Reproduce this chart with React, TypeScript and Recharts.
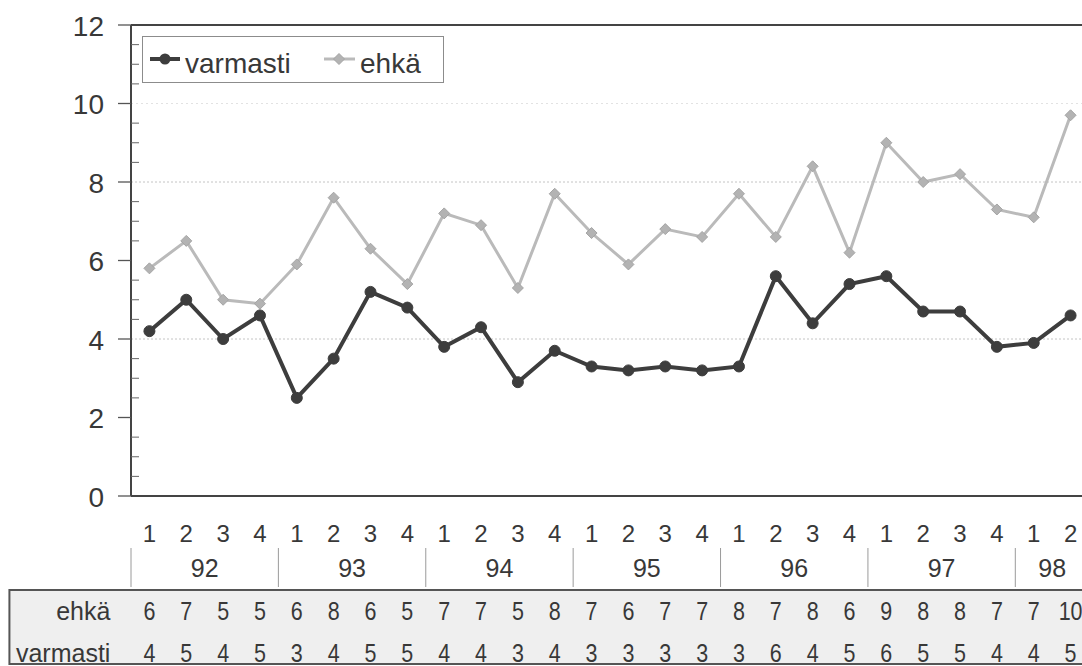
import React from 'react';
import { LineChart, Line, XAxis, YAxis, ReferenceLine, Legend } from 'recharts';

const YEARS = ['92', '93', '94', '95', '96', '97', '98'];
const QUARTERS_IN_YEAR = [4, 4, 4, 4, 4, 4, 2];
const VARMASTI = [4.2, 5.0, 4.0, 4.6, 2.5, 3.5, 5.2, 4.8, 3.8, 4.3, 2.9, 3.7, 3.3, 3.2, 3.3, 3.2, 3.3, 5.6, 4.4, 5.4, 5.6, 4.7, 4.7, 3.8, 3.9, 4.6];
const EHKA = [5.8, 6.5, 5.0, 4.9, 5.9, 7.6, 6.3, 5.4, 7.2, 6.9, 5.3, 7.7, 6.7, 5.9, 6.8, 6.6, 7.7, 6.6, 8.4, 6.2, 9.0, 8.0, 8.2, 7.3, 7.1, 9.7];
const TABLE_EHKA = [6, 7, 5, 5, 6, 8, 6, 5, 7, 7, 5, 8, 7, 6, 7, 7, 8, 7, 8, 6, 9, 8, 8, 7, 7, 10];
const TABLE_VARMASTI = [4, 5, 4, 5, 3, 4, 5, 5, 4, 4, 3, 4, 3, 3, 3, 3, 3, 6, 4, 5, 6, 5, 5, 4, 4, 5];
const ROW_LABELS = ['ehkä', 'varmasti'];
const Y_TICKS = [0, 0.5, 1, 1.5, 2, 2.5, 3, 3.5, 4, 4.5, 5, 5.5, 6, 6.5, 7, 7.5, 8, 8.5, 9, 9.5, 10, 10.5, 11, 11.5, 12];
const Y_MAJOR = [0, 2, 4, 6, 8, 10, 12];
const GRID_DARK = [4, 8];
const GRID_FAINT = [10];

const CHART_W = 1100;
const CHART_H = 666;
const MARGIN = { top: 25, right: 11, left: 0, bottom: 0 };
const Y_AXIS_W = 131;
const X_AXIS_H = 170;
const PLOT_W = CHART_W - MARGIN.left - MARGIN.right - Y_AXIS_W;
const FONT = '"Liberation Sans", Arial, Helvetica, sans-serif';
const TEXT = '#383838';
const DARK = '#3d3d3d';
const LIGHT = '#bababa';
const AXIS = '#444444';

type Row = {
  key: string;
  year: string;
  quarter: string;
  q: number;
  n: number;
  varmasti: number;
  ehka: number;
  tEhka: number;
  tVarmasti: number;
};

const data: Row[] = [];
{
  let i = 0;
  YEARS.forEach((year, yi) => {
    for (let q = 1; q <= QUARTERS_IN_YEAR[yi]; q++) {
      data.push({
        key: `${year}-${q}`,
        year,
        quarter: String(q),
        q,
        n: QUARTERS_IN_YEAR[yi],
        varmasti: VARMASTI[i],
        ehka: EHKA[i],
        tEhka: TABLE_EHKA[i],
        tVarmasti: TABLE_VARMASTI[i],
      });
      i++;
    }
  });
}
const byKey = new Map(data.map((d) => [d.key, d]));
const BAND = PLOT_W / data.length;

function Num({ x, y, size, children }: { x: number; y: number; size: number; children: any }) {
  return (
    <text
      transform={`translate(${x},${y}) scale(0.86,1)`}
      x={0}
      y={0}
      textAnchor="middle"
      fontSize={size}
      fontFamily={FONT}
      fill={TEXT}
    >
      {children}
    </text>
  );
}

function XTick(props: any) {
  const { x, y, payload } = props;
  const d = byKey.get(payload.value);
  if (!d) return null;
  const isFirst = d.key === data[0].key;
  return (
    <g>
      {isFirst && (
        <g>
          <rect x={x - 140} y={y + 94} width={1200} height={74} fill="#efefef" stroke="#555" strokeWidth={2} />
          <text x={x - 39} y={y + 124} textAnchor="end" fontSize={25} fontFamily={FONT} fill={TEXT}>{ROW_LABELS[0]}</text>
          <text x={x - 39} y={y + 166} textAnchor="end" fontSize={25} fontFamily={FONT} fill={TEXT}>{ROW_LABELS[1]}</text>
        </g>
      )}
      <text x={x} y={y + 46} textAnchor="middle" fontSize={24} fontFamily={FONT} fill={TEXT}>{d.quarter}</text>
      {d.q === 1 && (
        <line x1={x - BAND / 2} x2={x - BAND / 2} y1={y + 52} y2={y + 91} stroke="#9a9a9a" strokeWidth={1} />
      )}
      {d.q === 1 && (
        <text x={x + ((d.n - 1) * BAND) / 2} y={y + 81} textAnchor="middle" fontSize={25} fontFamily={FONT} fill={TEXT}>{d.year}</text>
      )}
      <Num x={x} y={y + 124} size={25}>{d.tEhka}</Num>
      <Num x={x} y={y + 166} size={25}>{d.tVarmasti}</Num>
    </g>
  );
}

function YTick(props: any) {
  const { x, y, payload } = props;
  const v = payload.value;
  const major = Y_MAJOR.includes(v);
  return (
    <g>
      {major ? (
        <line x1={x - 13} x2={x} y1={y} y2={y} stroke="#555" strokeWidth={1.3} />
      ) : (
        <line x1={x} x2={x + 8} y1={y} y2={y} stroke="#666" strokeWidth={1} />
      )}
      {major && (
        <text x={x - 27} y={y + 10.5} textAnchor="end" fontSize={28} fontFamily={FONT} fill={TEXT}>{v}</text>
      )}
    </g>
  );
}

function Diamond(props: any) {
  const { cx, cy, index } = props;
  if (cx == null || cy == null) return <g key={index} />;
  const s = 5.5;
  return (
    <path
      key={index}
      d={`M${cx},${cy - s} L${cx + s},${cy} L${cx},${cy + s} L${cx - s},${cy} Z`}
      fill="#b3b3b3"
      stroke="#a4a4a4"
      strokeWidth={1}
    />
  );
}

function LegendBox() {
  return (
    <svg width={302} height={47} style={{ display: 'block' }}>
      <rect x={0.5} y={0.5} width={301} height={46} fill="#fff" stroke="#8c8c8c" strokeWidth={1} />
      <line x1={8} x2={38} y1={23} y2={23} stroke={DARK} strokeWidth={4} />
      <circle cx={23} cy={23} r={5.5} fill={DARK} />
      <text x={43} y={37} fontSize={28} fontFamily={FONT} fill={TEXT}>varmasti</text>
      <line x1={182} x2={213} y1={23} y2={23} stroke={LIGHT} strokeWidth={3} />
      <path d="M197,17.5 L202.5,23 L197,28.5 L191.5,23 Z" fill="#b3b3b3" stroke="#a4a4a4" />
      <text x={218} y={37} fontSize={28} fontFamily={FONT} fill={TEXT}>ehkä</text>
    </svg>
  );
}

export default function App() {
  return (
    <div style={{ position: 'absolute', left: 0, top: 0, width: 1082, height: 666, overflow: 'hidden', background: '#fff' }}>
      <LineChart width={CHART_W} height={CHART_H} data={data} margin={MARGIN}>
        {GRID_FAINT.map((v) => (
          <ReferenceLine key={`f${v}`} y={v} stroke="#e2e2e2" strokeDasharray="2 3" strokeWidth={1} />
        ))}
        {GRID_DARK.map((v) => (
          <ReferenceLine key={`d${v}`} y={v} stroke="#c4c4c4" strokeDasharray="2 2" strokeWidth={1} />
        ))}
        <ReferenceLine y={12} stroke={AXIS} strokeWidth={2} />
        <XAxis
          dataKey="key"
          scale="band"
          interval={0}
          tickSize={0}
          tickMargin={0}
          tickLine={false}
          height={X_AXIS_H}
          axisLine={{ stroke: AXIS, strokeWidth: 2 }}
          tick={XTick}
        />
        <YAxis
          type="number"
          domain={[0, 12]}
          ticks={Y_TICKS}
          interval={0}
          tickSize={0}
          tickMargin={0}
          tickLine={false}
          width={Y_AXIS_W}
          axisLine={{ stroke: AXIS, strokeWidth: 2 }}
          tick={YTick}
        />
        <Legend
          verticalAlign="middle"
          align="center"
          layout="horizontal"
          wrapperStyle={{ position: 'absolute', left: 142, top: 36, width: 302, height: 47 }}
          content={() => <LegendBox />}
        />
        <Line
          dataKey="ehka"
          stroke={LIGHT}
          strokeWidth={3}
          dot={Diamond}
          activeDot={false}
          isAnimationActive={false}
        />
        <Line
          dataKey="varmasti"
          stroke={DARK}
          strokeWidth={4}
          dot={{ r: 5.5, fill: DARK, stroke: DARK, strokeWidth: 1 }}
          activeDot={false}
          isAnimationActive={false}
        />
      </LineChart>
    </div>
  );
}
